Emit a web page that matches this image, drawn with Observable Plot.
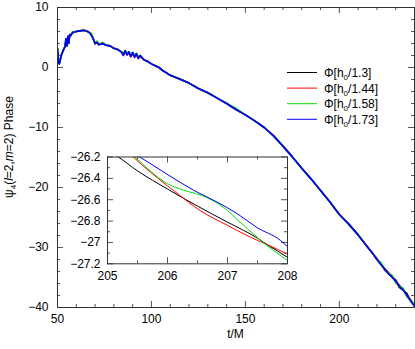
<!DOCTYPE html>
<html><head><meta charset="utf-8">
<script src="https://cdn.jsdelivr.net/npm/d3@7"></script>
<script src="https://cdn.jsdelivr.net/npm/@observablehq/plot@0.6"></script>
<style>
body{margin:0;background:#fff;}
#wrap{position:relative;width:415px;height:349px;font-family:"Liberation Sans",Arial,sans-serif;}
#wrap svg{position:absolute;}
</style></head><body><div id="wrap"></div>
<script>
// ---- data ----
const seriesDiv = ["1.3", "1.44", "1.58", "1.73"];
const seriesColors = ["#000000", "#ff0000", "#00dd00", "#0000ff"];

const tMain = [50,50.5,51,52,53,54,54.5,55,55.5,56,56.5,57,58,59,60,62,64,66,67,68,69,70,71,72,74,76,78,80,82,84,85,86,87,88,89,90,91,92,93,94,96,98,100,102,104,106,108,110,115,120,125,130,135,140,145,150,155,160,165,170,175,180,185,190,195,200,205,210,215,218,220,222,224,226,228,230,232,234,236,238,240];

const phase13  = [3.0,1.0,0.8,2.0,2.8,3.5,4.5,3.6,5.0,4.0,5.5,5.3,5.8,5.9,6.0,6.1,6.2,6.0,5.8,5.5,4.8,4.1,4.2,3.8,4.0,3.7,3.6,3.2,3.0,2.6,2.2,2.8,2.3,2.6,2.0,2.5,1.9,2.3,1.7,2.0,1.3,1.0,0.6,0.3,0.0,-0.5,-0.9,-1.3,-1.9,-2.6,-3.5,-4.2,-5.1,-6.0,-7.0,-7.9,-8.9,-10.0,-11.4,-13.1,-14.9,-16.8,-18.6,-20.5,-22.4,-24.5,-26.1,-27.9,-29.9,-31.1,-32.0,-32.6,-33.7,-34.3,-34.9,-35.4,-36.7,-37.1,-37.7,-39.0,-39.6];
const phase144 = [3.2,1.0,0.6,2.0,2.8,3.5,4.8,3.6,5.2,4.2,5.5,5.3,5.8,5.9,6.0,6.1,6.2,6.0,5.8,5.4,4.8,3.9,4.2,4.0,4.0,3.7,3.6,3.2,3.0,2.6,2.0,2.6,2.1,2.4,1.8,2.3,1.7,2.1,1.5,1.8,1.3,1.0,0.6,0.3,0.0,-0.5,-0.9,-1.3,-1.9,-2.6,-3.5,-4.2,-5.1,-6.0,-7.0,-7.9,-8.9,-10.0,-11.4,-13.1,-14.9,-16.8,-18.6,-20.5,-22.4,-24.5,-26.1,-27.9,-29.9,-31.1,-31.8,-32.8,-33.5,-34.1,-34.9,-35.6,-36.3,-37.1,-38.0,-38.7,-39.8];
const phase158 = [3.2,1.0,0.6,2.0,2.8,3.5,4.8,3.6,5.2,4.0,5.5,5.3,6.0,5.9,6.0,6.1,6.2,6.0,5.8,5.7,4.8,4.0,4.4,3.8,4.2,3.7,3.6,3.2,3.0,2.6,2.3,2.8,2.4,2.6,2.1,2.5,2.0,2.3,1.8,2.0,1.3,1.0,0.6,0.3,0.0,-0.5,-0.9,-1.3,-1.9,-2.6,-3.5,-4.2,-5.1,-6.0,-6.8,-7.9,-8.9,-10.0,-11.4,-13.1,-14.9,-16.8,-18.6,-20.5,-22.4,-24.5,-26.1,-27.9,-29.9,-31.1,-32.0,-32.5,-33.5,-34.3,-34.6,-35.9,-36.5,-36.8,-38.2,-38.9,-39.4];
const phase173 = [3.2,1.0,0.6,2.0,2.8,3.5,4.8,3.6,5.2,4.0,5.5,5.3,5.8,5.9,6.0,6.1,6.2,6.0,5.8,5.4,4.8,4.0,4.2,3.8,4.0,3.7,3.6,3.2,3.0,2.6,2.0,2.8,2.1,2.6,1.8,2.5,1.7,2.3,1.5,2.0,1.3,1.0,0.6,0.3,0.0,-0.5,-0.9,-1.3,-1.9,-2.6,-3.5,-4.2,-5.1,-6.0,-7.0,-7.9,-8.9,-10.0,-11.4,-13.1,-14.9,-16.8,-18.6,-20.5,-22.4,-24.5,-26.1,-27.9,-29.9,-31.1,-32.0,-32.8,-33.5,-34.3,-34.9,-35.6,-36.5,-37.1,-38.0,-38.9,-39.8];

// inset (zoom on 205 <= t <= 208)
const tIn13   = [205.0, 205.18, 205.5, 206.0, 206.5, 207.0, 207.5, 207.66, 208.0, 208.1];
const phIn13  = [-26.14, -26.2, -26.33, -26.5, -26.66, -26.81, -26.96, -27.02, -27.14, -27.18];
const tIn144  = [205.2, 205.43, 205.71, 206.0, 206.16, 206.54, 207.0, 207.38, 207.66, 208.0, 208.1];
const phIn144 = [-26.08, -26.2, -26.34, -26.47, -26.54, -26.7, -26.84, -26.95, -27.02, -27.11, -27.14];
const tIn158  = [205.2, 205.46, 205.71, 206.0, 206.27, 206.66, 206.93, 207.21, 207.49, 207.66, 207.88, 208.0, 208.1];
const phIn158 = [-26.08, -26.2, -26.33, -26.45, -26.51, -26.58, -26.67, -26.81, -26.95, -27.03, -27.12, -27.17, -27.21];
const tIn173  = [205.2, 205.54, 205.99, 206.43, 206.82, 207.16, 207.49, 207.88, 208.0, 208.1];
const phIn173 = [-26.08, -26.2, -26.36, -26.51, -26.62, -26.73, -26.86, -26.98, -27.04, -27.08];

// tick values
const xMajor = [50, 100, 150, 200];
const xMinor = [60,70,80,90,110,120,130,140,160,170,180,190,210,220,230];
const yMajor = [-40, -30, -20, -10, 0, 10];
const yMinor = [-38,-36,-34,-32,-28,-26,-24,-22,-18,-16,-14,-12,-8,-6,-4,-2,2,4,6,8];
const xInMajor = [205, 206, 207, 208];
const xInMinor = [205.5, 206.5, 207.5];
const yInMajor = [-27.2, -27, -26.8, -26.6, -26.4, -26.2];
const yInMinor = [-27.1, -26.9, -26.7, -26.5, -26.3];

// ---- build tables ----
const mainPhases = [phase13, phase144, phase158, phase173];
const mainRows = [];
seriesDiv.forEach((s, i) => tMain.forEach((t, j) => mainRows.push({t, v: mainPhases[i][j], s})));
const inT = [tIn13, tIn144, tIn158, tIn173];
const inP = [phIn13, phIn144, phIn158, phIn173];
const inRows = [];
seriesDiv.forEach((s, i) => inT[i].forEach((t, j) => inRows.push({t, v: inP[i][j], s})));

const font = '"Liberation Sans", Arial, sans-serif';
const tickCol = "#555";
const frameCol = "#333";
const fmt = d3.format("");

function ticks(xMaj, xMin, yMaj, yMin, iw, ih) {
  const M = 6, m = 3;
  return [
    Plot.ruleX(xMaj, {insetTop: ih - M, stroke: tickCol}),
    Plot.ruleX(xMaj, {insetBottom: ih - M, stroke: tickCol}),
    Plot.ruleX(xMin, {insetTop: ih - m, stroke: tickCol}),
    Plot.ruleX(xMin, {insetBottom: ih - m, stroke: tickCol}),
    Plot.ruleY(yMaj, {insetRight: iw - M, stroke: tickCol}),
    Plot.ruleY(yMaj, {insetLeft: iw - M, stroke: tickCol}),
    Plot.ruleY(yMin, {insetRight: iw - m, stroke: tickCol}),
    Plot.ruleY(yMin, {insetLeft: iw - m, stroke: tickCol})
  ];
}

// ---- main plot ----
const W = 415, H = 349, mL = 57, mR = 1, mT = 7, mB = 42;
const iw = W - mL - mR, ih = H - mT - mB;
const main = Plot.plot({
  width: W, height: H,
  marginLeft: mL, marginRight: mR, marginTop: mT, marginBottom: mB,
  style: {fontFamily: font, fontSize: "12px", color: "#000", background: "transparent"},
  x: {domain: [50, 240], label: null},
  y: {domain: [-40, 10], label: null},
  color: {domain: seriesDiv, range: seriesColors},
  marks: [
    ...ticks(xMajor, xMinor, yMajor, yMinor, iw, ih),
    Plot.axisX(xMajor, {tickSize: 0, tickPadding: 7, label: null, tickFormat: fmt}),
    Plot.axisY(yMajor, {tickSize: 0, tickPadding: 9, label: null, tickFormat: fmt}),
    Plot.line(mainRows, {x: "t", y: "v", z: "s", stroke: "s", strokeWidth: 1.6, clip: true}),
    Plot.frame({stroke: frameCol})
  ]
});
main.style.left = "0px"; main.style.top = "0px";
document.getElementById("wrap").appendChild(main);

const sm = d3.select(main);
sm.append("text").attr("x", mL + iw / 2).attr("y", 338).attr("text-anchor", "middle")
  .attr("font-size", 12).attr("font-family", font).text("t/M");
const yl = sm.append("text").attr("transform", "translate(13,147) rotate(-90)")
  .attr("text-anchor", "middle").attr("font-size", 12).attr("font-family", font);
yl.append("tspan").text("ψ");
yl.append("tspan").attr("font-size", 8).attr("dy", 3).text("4");
yl.append("tspan").attr("dy", -3).text("(");
yl.append("tspan").attr("font-style", "italic").text("l");
yl.append("tspan").text("=2,");
yl.append("tspan").attr("font-style", "italic").text("m");
yl.append("tspan").text("=2) Phase");

// legend
const lg = sm.append("g").attr("text-anchor", "start");
seriesDiv.forEach((s, i) => {
  const y = 72.5 + i * 15.6;
  lg.append("line").attr("x1", 287).attr("x2", 317).attr("y1", y).attr("y2", y)
    .attr("stroke", seriesColors[i]).attr("stroke-width", 1);
  const tx = lg.append("text").attr("x", 324).attr("y", y + 4.5).attr("text-anchor", "start")
    .attr("font-size", 12).attr("font-family", font);
  tx.append("tspan").text("Φ[h");
  tx.append("tspan").attr("font-size", 8).attr("dy", 3).text("0");
  tx.append("tspan").attr("dy", -3).text("/" + s + "]");
});

// ---- inset ----
const IW = 255, IH = 135, imL = 47, imR = 28, imT = 6.5, imB = 21.7;
const iiw = IW - imL - imR, iih = IH - imT - imB;
const inset = Plot.plot({
  width: IW, height: IH,
  marginLeft: imL, marginRight: imR, marginTop: imT, marginBottom: imB,
  style: {fontFamily: font, fontSize: "12px", color: "#000", background: "transparent"},
  x: {domain: [205, 208], label: null},
  y: {domain: [-27.2, -26.2], label: null},
  color: {domain: seriesDiv, range: seriesColors},
  marks: [
    Plot.frame({fill: "white"}),
    ...ticks(xInMajor, xInMinor, yInMajor, yInMinor, iiw, iih),
    Plot.axisX(xInMajor, {tickSize: 0, tickPadding: 8, label: null, tickFormat: fmt}),
    Plot.axisY(yInMajor, {tickSize: 0, tickPadding: 7, label: null, tickFormat: fmt}),
    Plot.line(inRows, {x: "t", y: "v", z: "s", stroke: "s", strokeWidth: 1, curve: "monotone-x", clip: true}),
    Plot.frame({stroke: frameCol})
  ]
});
inset.style.left = "60px"; inset.style.top = "150px";
document.getElementById("wrap").appendChild(inset);
</script>
</body></html>
